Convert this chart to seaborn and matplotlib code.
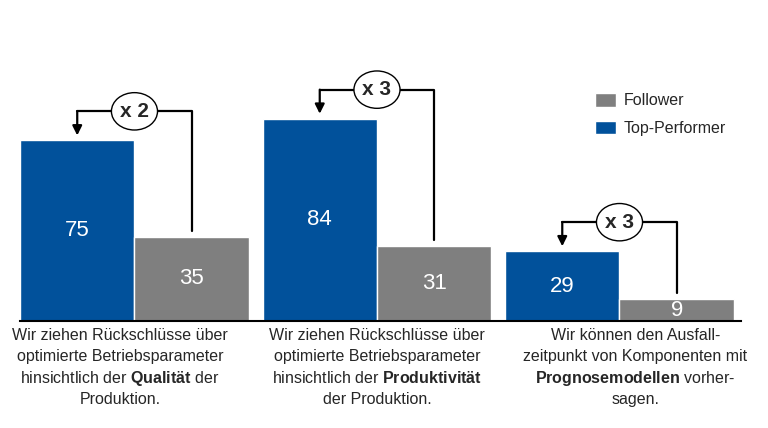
import pandas as pd
import seaborn as sb
import matplotlib.pyplot as plt
from matplotlib.patches import Ellipse

# Werte aus der Grafik
kategorien = ['Qualität', 'Produktivität', 'Prognose']
top_performer = [75, 84, 29]
follower = [35, 31, 9]
faktoren = ['x 2', 'x 3', 'x 3']
beschriftungen = [
    ['Wir ziehen Rückschlüsse über', 'optimierte Betriebsparameter',
     'hinsichtlich der $\\mathbf{Qualität}$ der', 'Produktion.'],
    ['Wir ziehen Rückschlüsse über', 'optimierte Betriebsparameter',
     'hinsichtlich der $\\mathbf{Produktivität}$', 'der Produktion.'],
    ['Wir können den Ausfall-', 'zeitpunkt von Komponenten mit',
     '$\\mathbf{Prognosemodellen}$ vorher-', 'sagen.'],
]

blau = '#01519B'
grau = '#7F7F7F'

df = pd.DataFrame({
    'Kategorie': kategorien * 2,
    'Gruppe': ['Top-Performer'] * 3 + ['Follower'] * 3,
    'Wert': top_performer + follower,
})

sb.set_style('white')
plt.rcParams['font.family'] = ['Liberation Sans', 'DejaVu Sans']
plt.rcParams['mathtext.fontset'] = 'custom'
plt.rcParams['mathtext.rm'] = 'Liberation Sans'
plt.rcParams['mathtext.bf'] = 'Liberation Sans:bold'

fig = plt.figure(figsize=(7.68, 4.28), dpi=100)
ax = fig.add_axes([20 / 768, 107 / 428, 721 / 768, 241 / 428])

sb.barplot(data=df, x='Kategorie', y='Wert', hue='Gruppe',
           palette={'Top-Performer': blau, 'Follower': grau},
           width=0.944, gap=0, saturation=1, edgecolor='white', linewidth=1, ax=ax)

ax.set_xlim(-0.472, 2.501)
ax.set_ylim(0, 100)
ax.set_xticks([])
ax.set_yticks([])
ax.set_xlabel('')
ax.set_ylabel('')
sb.despine(ax=ax, left=True)
ax.spines['bottom'].set_color('black')
ax.spines['bottom'].set_linewidth(1.5)

# Zahlen in den Balken
for c in ax.containers:
    ax.bar_label(c, label_type='center', color='white', fontsize=16)

# Pfeile mit Faktor
for i, (tp, fo, f) in enumerate(zip(top_performer, follower, faktoren)):
    xl, xr = i - 0.236, i + 0.236
    level = tp + 12
    ax.plot([xr, xr, xl], [fo + 2.5, level, level], color='black', lw=1.6, clip_on=False)
    ax.annotate('', xy=(xl, tp + 2), xytext=(xl, level),
                arrowprops=dict(arrowstyle='-|>', color='black', lw=1.6, mutation_scale=14,
                                shrinkA=0, shrinkB=0),
                annotation_clip=False)
    ax.add_patch(Ellipse((i, level), 0.19, 15.5, facecolor='white', edgecolor='black',
                         lw=1, zorder=5, clip_on=False))
    ax.text(i, level, f, ha='center', va='center', fontsize=15, fontweight='bold', zorder=6)

# Beschriftung unter den Balken, Zeile fuer Zeile
versatz = [-0.06, 0, 0.065]
for i, zeilen in enumerate(beschriftungen):
    for k, zeile in enumerate(zeilen):
        ax.annotate(zeile, xy=(i + versatz[i], 0), xycoords=ax.get_xaxis_transform(),
                    xytext=(0, -13.5 - k * 15.4), textcoords='offset points',
                    ha='center', va='baseline', fontsize=11.5)

# Legende: Follower oben
h, l = ax.get_legend_handles_labels()
ax.get_legend().remove()
fig.legend(h[::-1], l[::-1], loc='upper left', bbox_to_anchor=(595 / 768, 1 - 93 / 428),
           frameon=False, borderpad=0, borderaxespad=0, fontsize=11.5,
           handlelength=1.3, handleheight=0.94, handletextpad=0.5, labelspacing=0.78)

fig.savefig('out.png', dpi=100)
